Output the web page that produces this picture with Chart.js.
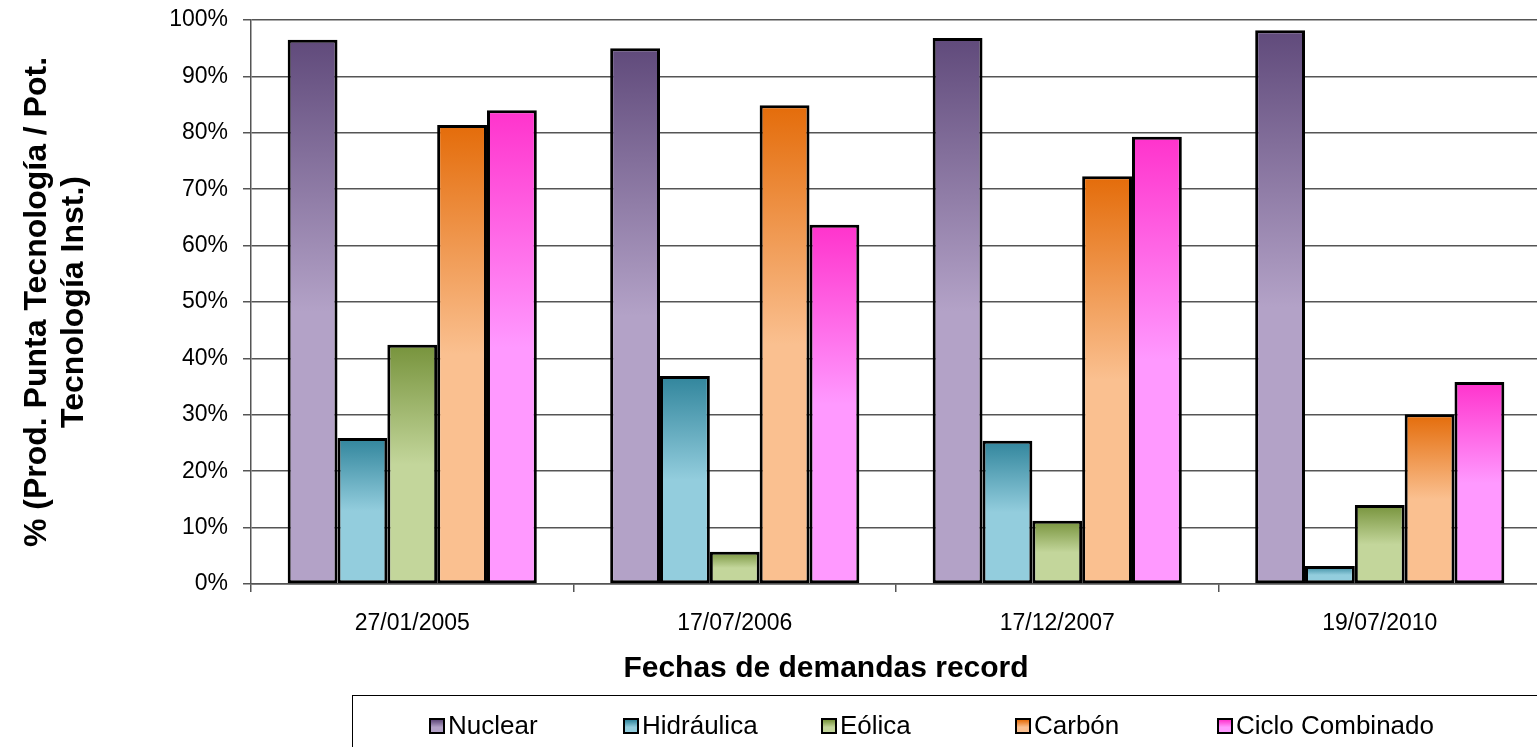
<!DOCTYPE html>
<html lang="es">
<head>
<meta charset="utf-8">
<title>Prod. punta por tecnología</title>
<script src="https://cdn.jsdelivr.net/npm/chart.js@4/dist/chart.umd.min.js"></script>
<style>
    html, body { margin: 0; padding: 0; background: #fff; overflow: hidden; }
    #wrap { position: relative; width: 1541px; height: 747px; }
    #legend {
        position: absolute; left: 352px; top: 695px; width: 1200px; height: 70px;
        border: 1.5px solid #000; box-sizing: border-box;
        font-family: 'Liberation Sans', Arial, sans-serif; font-size: 26px; color: #000;
    }
    #legend .item { position: absolute; top: 14px; display: flex; align-items: center; white-space: nowrap; }
    #legend .box { width: 12px; height: 12px; border: 2px solid #000; margin-right: 3px; }
</style>
</head>
<body>
<div id="wrap">
    <canvas id="chart" width="1541" height="747"></canvas>
    <div id="legend"></div>
</div>
<script>
const fechas = ['27/01/2005', '17/07/2006', '17/12/2007', '19/07/2010'];
const tecnologias = ['Nuclear', 'Hidráulica', 'Eólica', 'Carbón', 'Ciclo Combinado'];

// % producción en punta / potencia instalada
const nuclear = [96.5, 95.0, 96.8, 98.2];
const hidraulica = [25.9, 36.9, 25.4, 3.2];
const eolica = [42.4, 5.7, 11.2, 14.0];
const carbon = [81.4, 84.9, 72.3, 30.1];
const cicloCombinado = [84.0, 63.7, 79.3, 35.8];

const yTicks = [0, 10, 20, 30, 40, 50, 60, 70, 80, 90, 100];

const series = [nuclear, hidraulica, eolica, carbon, cicloCombinado];
const dark = ['#604a7b', '#31859c', '#77933c', '#e46c0a', '#ff33cc'];
const light = ['#b3a2c7', '#93cddd', '#c3d69b', '#fac090', '#ff99ff'];
const legendLeft = [76, 270, 468, 662, 864];

const font = "'Liberation Sans', Arial, sans-serif";

// vertical gradient per bar: dark at the top, light from half height down
function barFill(i) {
    return function (context) {
        const chart = context.chart;
        const y = chart.scales.y;
        if (!y || context.type !== 'data') return light[i];
        const top = y.getPixelForValue(context.raw);
        const base = y.getPixelForValue(0);
        if (!isFinite(top) || !isFinite(base) || top === base) return light[i];
        const g = chart.ctx.createLinearGradient(0, top, 0, base);
        g.addColorStop(0, dark[i]);
        g.addColorStop(0.5, light[i]);
        g.addColorStop(1, light[i]);
        return g;
    };
}

const xTitle = {
    id: 'xTitle',
    afterDraw(chart) {
        const ctx = chart.ctx;
        ctx.save();
        ctx.font = 'bold 30px ' + font;
        ctx.fillStyle = '#000';
        ctx.textAlign = 'center';
        ctx.textBaseline = 'middle';
        ctx.fillText('Fechas de demandas record', 826, 669);
        ctx.restore();
    }
};

new Chart(document.getElementById('chart'), {
    type: 'bar',
    data: {
        labels: fechas,
        datasets: tecnologias.map((name, i) => ({
            label: name,
            data: series[i],
            backgroundColor: barFill(i),
            borderColor: '#000',
            borderWidth: 3,
            borderSkipped: false,
            barPercentage: 1,
            categoryPercentage: 0.7725
        }))
    },
    options: {
        responsive: false,
        animation: false,
        layout: { padding: { top: 20, left: 0, right: 0, bottom: 0 } },
        plugins: {
            legend: { display: false },
            tooltip: { enabled: false }
        },
        scales: {
            x: {
                grid: { offset: true, drawOnChartArea: false, drawTicks: true, tickLength: 8, color: '#555', lineWidth: 1.5 },
                border: { color: '#555', width: 1.5 },
                ticks: { color: '#000', font: { family: font, size: 23 }, padding: 18, maxRotation: 0 },
                afterFit(scale) { scale.height = 163; }
            },
            y: {
                min: 0,
                max: 100,
                afterBuildTicks(scale) { scale.ticks = yTicks.map(v => ({ value: v })); },
                grid: { color: '#555', lineWidth: 1.5, tickLength: 8 },
                border: { color: '#555', width: 1.5 },
                ticks: {
                    color: '#000',
                    font: { family: font, size: 23 },
                    padding: 15,
                    callback: v => v + '%'
                },
                title: {
                    display: true,
                    text: ['% (Prod. Punta Tecnología / Pot.', 'Tecnología Inst.)'],
                    color: '#000',
                    font: { family: font, size: 32, weight: 'bold', lineHeight: 1.18 },
                    padding: { top: 18, bottom: 0 }
                },
                afterFit(scale) {
                    scale.width = 251;
                    scale.paddingTop = 0;
                    scale.paddingBottom = 0;
                }
            }
        }
    },
    plugins: [xTitle]
});

// legend row
const legend = document.getElementById('legend');
tecnologias.forEach((name, i) => {
    const item = document.createElement('div');
    item.className = 'item';
    item.style.left = legendLeft[i] + 'px';
    const box = document.createElement('span');
    box.className = 'box';
    box.style.background = 'linear-gradient(' + dark[i] + ', ' + light[i] + ' 60%)';
    const text = document.createElement('span');
    text.textContent = name;
    item.appendChild(box);
    item.appendChild(text);
    legend.appendChild(item);
});
</script>
</body>
</html>
